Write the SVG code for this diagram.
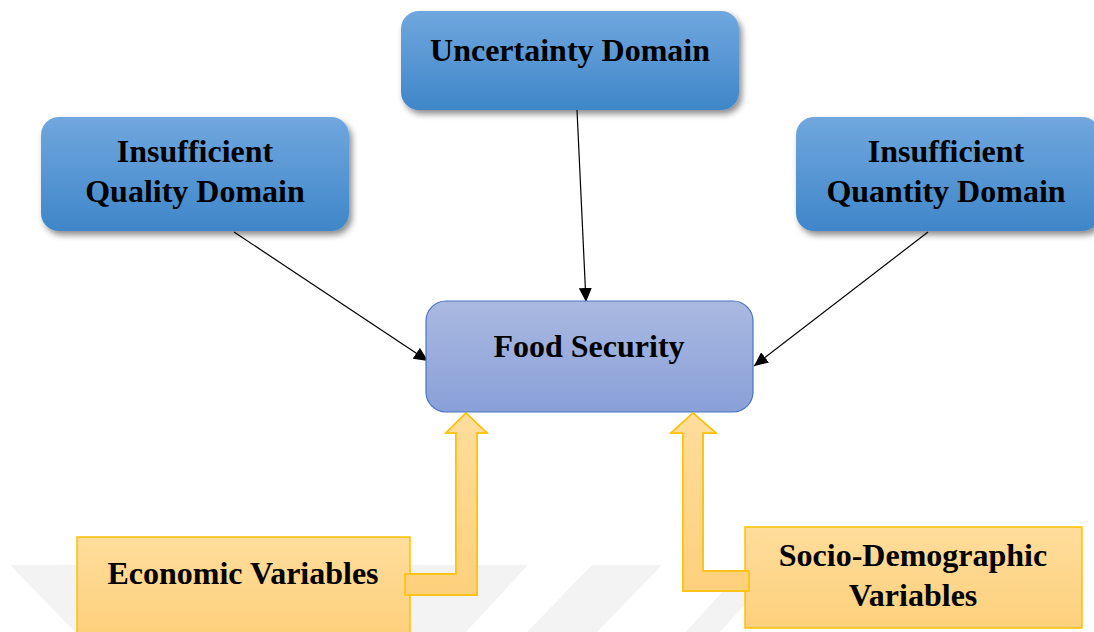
<svg xmlns="http://www.w3.org/2000/svg" width="1094" height="632" viewBox="0 0 1094 632">
<defs>
<linearGradient id="gBlue" x1="0" y1="0" x2="0" y2="1">
<stop offset="0" stop-color="#70a7de"/>
<stop offset="1" stop-color="#3f86c9"/>
</linearGradient>
<linearGradient id="gFood" x1="0" y1="0" x2="0" y2="1">
<stop offset="0" stop-color="#aab9e1"/>
<stop offset="1" stop-color="#89a0d8"/>
</linearGradient>
<linearGradient id="gYel" x1="0" y1="0" x2="0" y2="1">
<stop offset="0" stop-color="#ffdd9c"/>
<stop offset="1" stop-color="#fdd07c"/>
</linearGradient>
<filter id="sh" x="-10%" y="-10%" width="125%" height="130%">
<feDropShadow dx="3" dy="4" stdDeviation="3" flood-color="#000" flood-opacity="0.45"/>
</filter>
<marker id="ah" viewBox="0 0 10 10" refX="10" refY="5" markerWidth="14" markerHeight="13" markerUnits="userSpaceOnUse" orient="auto" preserveAspectRatio="none">
<path d="M0,0 L10,5 L0,10 z" fill="#000"/>
</marker>
<style>
.blue{fill:url(#gBlue);filter:url(#sh);}
.food{fill:url(#gFood);stroke:#4a74c2;stroke-width:1.2;}
.yel{fill:url(#gYel);stroke:#ffc000;stroke-width:1.5;}
.t{font-family:"Liberation Serif","Times New Roman",serif;font-weight:bold;fill:#000;text-anchor:middle;font-size:32px;}
.wm{fill:#f3f3f3;}
.con{stroke:#000;stroke-width:1.2;fill:none;marker-end:url(#ah);}
</style>
</defs>
<rect width="1094" height="632" fill="#fff"/>
<g id="watermark">
<polygon class="wm" points="10,565 528,565 466,632 75,632"/>
<polygon class="wm" points="592,565 662,565 597,632 527,632"/>
<polygon class="wm" points="722,592 756,592 720,632 686,632"/>
</g>
<g id="connectors">
<line class="con" x1="577" y1="110" x2="586" y2="302"/>
<line class="con" x1="234" y1="232" x2="428" y2="361"/>
<line class="con" x1="928" y1="232" x2="754" y2="366"/>
<polygon id="arrow-economic" class="yel" points="405,574 456,574 456,433 446,433 466,413 487,433 477,433 477,595 405,595"/>
<polygon id="arrow-socio" class="yel" points="749,571 703,571 703,433 716,433 693,413 671,433 683,433 683,591 749,591"/>
</g>
<g id="node-uncertainty">
<rect class="blue" x="401" y="11" width="338" height="99" rx="18"/>
<text class="t" x="570" y="61">Uncertainty Domain</text>
</g>
<g id="node-quality">
<rect class="blue" x="41" y="117" width="308" height="114" rx="18"/>
<text class="t" x="195" y="162">Insufficient</text>
<text class="t" x="195" y="202">Quality Domain</text>
</g>
<g id="node-quantity">
<rect class="blue" x="796" y="117" width="304" height="114" rx="18"/>
<text class="t" x="946" y="162">Insufficient</text>
<text class="t" x="946" y="202">Quantity Domain</text>
</g>
<g id="node-food">
<rect class="food" x="426" y="301" width="327" height="111" rx="20"/>
<text class="t" x="589" y="357">Food Security</text>
</g>
<g id="node-economic">
<rect class="yel" x="77" y="537" width="333" height="100"/>
<text class="t" x="243" y="584">Economic Variables</text>
</g>
<g id="node-socio">
<rect class="yel" x="745" y="527" width="337" height="101"/>
<text class="t" x="913" y="566">Socio-Demographic</text>
<text class="t" x="913" y="606">Variables</text>
</g>
<use href="#arrow-economic"/>
<use href="#arrow-socio"/>
</svg>
